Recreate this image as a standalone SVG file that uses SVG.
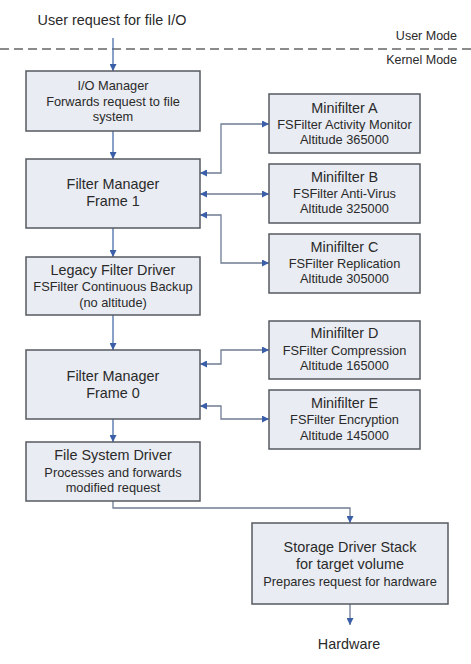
<svg xmlns="http://www.w3.org/2000/svg" width="471" height="664" viewBox="0 0 471 664">
<style>
.bx{fill:#e9ecf2;stroke:#555a60;stroke-width:1.5}
text{font-family:"Liberation Sans",Arial,sans-serif;font-size:12.8px;fill:#2a2a2a;text-anchor:middle}
.t{font-size:14.4px}
.m{font-size:12.5px;text-anchor:end}
.c{fill:none;stroke:#6f7c92;stroke-width:1.3}
.v{fill:none;stroke:#4a6ea8;stroke-width:1.3}
</style>
<defs>
<marker id="ah" viewBox="0 0 10 10" refX="10" refY="5" markerWidth="8" markerHeight="7" orient="auto-start-reverse" markerUnits="userSpaceOnUse">
<path d="M0,0 L10,5 L0,10 z" fill="#3b5ea8"/>
</marker>
</defs>
<rect width="471" height="664" fill="#fff"/>
<g id="labels">
<text class="t" x="112" y="25">User request for file I/O</text>
<text class="m" x="457" y="40">User Mode</text>
<text class="m" x="457" y="64">Kernel Mode</text>
<line x1="0" y1="49" x2="471" y2="49" stroke="#666" stroke-width="1.5" stroke-dasharray="9,5"/>
<text class="t" x="349" y="649">Hardware</text>
</g>
<g id="connectors">
<path class="v" d="M113,38 V71" marker-end="url(#ah)"/>
<path class="v" d="M113,131 V159" marker-end="url(#ah)"/>
<path class="v" d="M113,228 V257" marker-end="url(#ah)"/>
<path class="v" d="M113,315 V350" marker-end="url(#ah)"/>
<path class="v" d="M113,419 V442" marker-end="url(#ah)"/>
<path class="c" d="M113,501 V508 H350 V523" marker-end="url(#ah)"/>
<path class="c" d="M350,604 V625" marker-end="url(#ah)"/>
<path class="c" d="M200,173 H221 V124 H269" marker-start="url(#ah)" marker-end="url(#ah)"/>
<path class="c" d="M200,194 H269" marker-start="url(#ah)" marker-end="url(#ah)"/>
<path class="c" d="M200,215 H221 V263 H269" marker-start="url(#ah)" marker-end="url(#ah)"/>
<path class="c" d="M200,364 H221 V350 H269" marker-start="url(#ah)" marker-end="url(#ah)"/>
<path class="c" d="M200,406 H221 V419 H269" marker-start="url(#ah)" marker-end="url(#ah)"/>
</g>
<g id="io-manager">
<rect class="bx" x="26" y="71" width="174" height="60"/>
<text x="113" y="90">I/O Manager</text>
<text x="113" y="106">Forwards request to file</text>
<text x="113" y="121">system</text>
</g>
<g id="filter-manager-1">
<rect class="bx" x="26" y="159" width="174" height="69"/>
<text class="t" x="113" y="189">Filter Manager</text>
<text class="t" x="113" y="206">Frame 1</text>
</g>
<g id="legacy-filter">
<rect class="bx" x="26" y="257" width="174" height="58"/>
<text class="t" x="113" y="275">Legacy Filter Driver</text>
<text x="113" y="291">FSFilter Continuous Backup</text>
<text x="113" y="307">(no altitude)</text>
</g>
<g id="filter-manager-0">
<rect class="bx" x="26" y="350" width="174" height="69"/>
<text class="t" x="113" y="381">Filter Manager</text>
<text class="t" x="113" y="398">Frame 0</text>
</g>
<g id="file-system-driver">
<rect class="bx" x="26" y="442" width="174" height="59"/>
<text class="t" x="113" y="460">File System Driver</text>
<text x="113" y="477">Processes and forwards</text>
<text x="113" y="492">modified request</text>
</g>
<g id="minifilter-a">
<rect class="bx" x="269" y="94" width="151" height="59"/>
<text class="t" x="344.5" y="113">Minifilter A</text>
<text x="344.5" y="129">FSFilter Activity Monitor</text>
<text x="344.5" y="144">Altitude 365000</text>
</g>
<g id="minifilter-b">
<rect class="bx" x="269" y="164" width="151" height="59"/>
<text class="t" x="344.5" y="182">Minifilter B</text>
<text x="344.5" y="198">FSFilter Anti-Virus</text>
<text x="344.5" y="213">Altitude 325000</text>
</g>
<g id="minifilter-c">
<rect class="bx" x="269" y="234" width="151" height="59"/>
<text class="t" x="344.5" y="252">Minifilter C</text>
<text x="344.5" y="268">FSFilter Replication</text>
<text x="344.5" y="283">Altitude 305000</text>
</g>
<g id="minifilter-d">
<rect class="bx" x="269" y="321" width="151" height="58"/>
<text class="t" x="344.5" y="338">Minifilter D</text>
<text x="344.5" y="355">FSFilter Compression</text>
<text x="344.5" y="370">Altitude 165000</text>
</g>
<g id="minifilter-e">
<rect class="bx" x="269" y="390" width="151" height="59"/>
<text class="t" x="344.5" y="408">Minifilter E</text>
<text x="344.5" y="424">FSFilter Encryption</text>
<text x="344.5" y="440">Altitude 145000</text>
</g>
<g id="storage-driver-stack">
<rect class="bx" x="252" y="523" width="196" height="81"/>
<text class="t" x="350" y="552">Storage Driver Stack</text>
<text class="t" x="350" y="569">for target volume</text>
<text x="350" y="586">Prepares request for hardware</text>
</g>
</svg>
